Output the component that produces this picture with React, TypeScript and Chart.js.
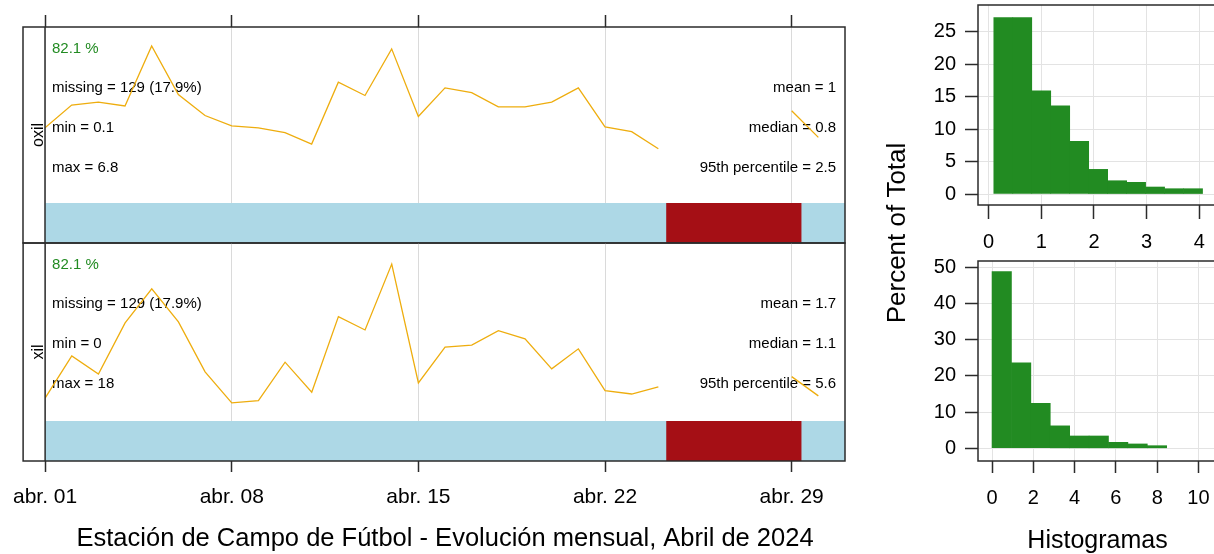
import React, { useEffect, useRef } from "react";
import { Chart, registerables } from "chart.js";

Chart.register(...registerables);

const FONT = '"Liberation Sans", Arial, Helvetica, sans-serif';
Chart.defaults.font.family = FONT;
Chart.defaults.color = "#000000";

// ---------------- data ----------------
const DATES = [
  "2024-04-01", "2024-04-02", "2024-04-03", "2024-04-04", "2024-04-05", "2024-04-06",
  "2024-04-07", "2024-04-08", "2024-04-09", "2024-04-10", "2024-04-11", "2024-04-12",
  "2024-04-13", "2024-04-14", "2024-04-15", "2024-04-16", "2024-04-17", "2024-04-18",
  "2024-04-19", "2024-04-20", "2024-04-21", "2024-04-22", "2024-04-23", "2024-04-24",
  "2024-04-25", "2024-04-26", "2024-04-27", "2024-04-28", "2024-04-29", "2024-04-30",
];
const OXIL_DAILY = [
  0.79, 1.03, 1.06, 1.02, 1.65, 1.14, 0.92, 0.81, 0.79, 0.74, 0.62, 1.27, 1.13, 1.62, 0.91,
  1.21, 1.16, 1.01, 1.01, 1.06, 1.21, 0.8, 0.75, 0.57, null, null, null, null, 0.97, 0.69,
];
const XIL_DAILY = [
  0.62, 1.76, 1.27, 2.65, 3.57, 2.68, 1.33, 0.49, 0.55, 1.59, 0.78, 2.82, 2.46, 4.24, 1.03,
  2.0, 2.05, 2.44, 2.22, 1.41, 1.95, 0.82, 0.73, 0.92, null, null, null, null, 1.2, 0.68,
];
const PERIOD = ["2024-04-01T00:00", "2024-05-01T00:00"];
const MISSING_PERIOD = ["2024-04-24T07:00", "2024-04-29T09:00"];
const DATE_TICKS = ["2024-04-01", "2024-04-08", "2024-04-15", "2024-04-22", "2024-04-29"];
const DATE_TICK_LABELS = ["abr. 01", "abr. 08", "abr. 15", "abr. 22", "abr. 29"];

const VARIABLES = ["oxil", "xil"];
const CAPTURE_PCT = [82.1, 82.1];
const MISSING_N = [129, 129];
const MISSING_PCT = [17.9, 17.9];
const MIN_VALUES = [0.1, 0];
const MAX_VALUES = [6.8, 18];
const MEAN_VALUES = [1, 1.7];
const MEDIAN_VALUES = [0.8, 1.1];
const P95_VALUES = [2.5, 5.6];
const Y_RANGE_OXIL = [-0.42, 1.85];
const Y_RANGE_XIL = [-1.08, 4.81];
const CAPTURE_LEVEL = [0, 0];

const HIST_OXIL_EDGES = [0.1, 0.46, 0.82, 1.18, 1.54, 1.9, 2.26, 2.62, 2.98, 3.34, 3.7, 4.06];
const HIST_OXIL_PCT = [27.2, 27.2, 15.9, 13.6, 8.1, 3.8, 2.05, 1.8, 1.08, 0.82, 0.82];
const HIST_XIL_EDGES = [0, 0.94, 1.88, 2.82, 3.76, 4.7, 5.64, 6.58, 7.52, 8.46];
const HIST_XIL_PCT = [48.8, 23.6, 12.4, 6.2, 3.4, 3.4, 1.65, 1.2, 0.72];
const HIST_OXIL_X_TICKS = [0, 1, 2, 3, 4, 5];
const HIST_OXIL_Y_TICKS = [0, 5, 10, 15, 20, 25];
const HIST_XIL_X_TICKS = [0, 2, 4, 6, 8, 10, 12];
const HIST_XIL_Y_TICKS = [0, 10, 20, 30, 40, 50];
const HIST_OXIL_X_RANGE = [-0.2, 5.15];
const HIST_OXIL_Y_RANGE = [-1.69, 29.12];
const HIST_XIL_X_RANGE = [-0.68, 12.98];
const HIST_XIL_Y_RANGE = [-3.51, 51.74];

const TITLE = "Estación de Campo de Fútbol - Evolución mensual, Abril de 2024";
const HIST_TITLE = "Histogramas";
const HIST_Y_TITLE = "Percent of Total";

// ---------------- styles / layout ----------------
const TREND = "#EEAD0E";
const CAPTURE = "#ADD8E6";
const MISSING = "#A50F15";
const HIST = "#228B22";
const PCT_COLOR = "#228B22";
const FRAME = "#2b2b2b";
const GRID_L = "#dadada";
const GRID_H = "#e3e3e3";

const CANVAS_W = 1300;
const CANVAS_H = 554;
const L_LEFT = 45;
const L_RIGHT = 845;
const STRIP_W = 22;
const L_TOPS = [27, 243];
const L_BOTTOMS = [243, 461];
const H_LEFT = 978;
const H_RIGHT = 1260;
const H_TOPS = [5, 261];
const H_BOTTOMS = [205, 461];
const H_YAXIS_W = 60;
const H_XAXIS_H = 50;

const T0 = Date.parse("2024-04-01T00:00:00Z");
const toDay = (s: string) =>
  (Date.parse(s.length === 10 ? s + "T00:00:00Z" : s + ":00Z") - T0) / 86400000;

const noScalePadding = (s: any) => {
  s.paddingTop = 0;
  s.paddingBottom = 0;
  s.paddingLeft = 0;
  s.paddingRight = 0;
};

function panelPlugin(idx: number) {
  return {
    id: "panelDecor" + idx,
    beforeDatasetsDraw(chart: any) {
      const { ctx, chartArea: a } = chart;
      ctx.save();
      ctx.font = `15px ${FONT}`;
      ctx.textBaseline = "middle";
      const rows = [0, 1, 2, 3].map((i) => a.top + 21.5 + 39.75 * i);
      ctx.textAlign = "left";
      ctx.fillStyle = PCT_COLOR;
      ctx.fillText(`${CAPTURE_PCT[idx]} %`, a.left + 7, rows[0]);
      ctx.fillStyle = "#000";
      ctx.fillText(`missing = ${MISSING_N[idx]} (${MISSING_PCT[idx]}%)`, a.left + 7, rows[1]);
      ctx.fillText(`min = ${MIN_VALUES[idx]}`, a.left + 7, rows[2]);
      ctx.fillText(`max = ${MAX_VALUES[idx]}`, a.left + 7, rows[3]);
      ctx.textAlign = "right";
      ctx.fillText(`mean = ${MEAN_VALUES[idx]}`, a.right - 9, rows[1]);
      ctx.fillText(`median = ${MEDIAN_VALUES[idx]}`, a.right - 9, rows[2]);
      ctx.fillText(`95th percentile = ${P95_VALUES[idx]}`, a.right - 9, rows[3]);
      ctx.restore();
    },
    afterDatasetsDraw(chart: any) {
      const { ctx, chartArea: a } = chart;
      ctx.save();
      ctx.strokeStyle = FRAME;
      ctx.lineWidth = 1.5;
      ctx.strokeRect(a.left - STRIP_W, a.top, a.right - a.left + STRIP_W, a.bottom - a.top);
      ctx.beginPath();
      ctx.moveTo(a.left, a.top);
      ctx.lineTo(a.left, a.bottom);
      ctx.stroke();
      ctx.translate(a.left - 2.5, (a.top + a.bottom) / 2);
      ctx.rotate(-Math.PI / 2);
      ctx.font = `16px ${FONT}`;
      ctx.fillStyle = "#000";
      ctx.textAlign = "center";
      ctx.textBaseline = "alphabetic";
      ctx.fillText(VARIABLES[idx], 0, 0);
      ctx.restore();
    },
  };
}

function panelConfig(idx: number, values: (number | null)[], yRange: number[]) {
  const isBottom = idx === 1;
  const top = L_TOPS[idx];
  const bottom = L_BOTTOMS[idx];
  const axisH = isBottom ? 93 : 12;
  const pts = DATES.map((d, i) => ({ x: toDay(d), y: values[i] }));
  return {
    type: "line",
    data: {
      datasets: [
        {
          data: pts,
          borderColor: TREND,
          borderWidth: 1.3,
          pointRadius: 0,
          fill: false,
          spanGaps: false,
          tension: 0,
        },
        {
          data: MISSING_PERIOD.map((d) => ({ x: toDay(d), y: CAPTURE_LEVEL[idx] })),
          borderColor: "rgba(0,0,0,0)",
          borderWidth: 0,
          backgroundColor: MISSING,
          fill: "start",
          pointRadius: 0,
        },
        {
          data: PERIOD.map((d) => ({ x: toDay(d), y: CAPTURE_LEVEL[idx] })),
          borderColor: "rgba(0,0,0,0)",
          borderWidth: 0,
          backgroundColor: CAPTURE,
          fill: "start",
          pointRadius: 0,
        },
      ],
    },
    options: {
      responsive: false,
      animation: false,
      devicePixelRatio: 1,
      events: [],
      layout: {
        padding: {
          left: L_LEFT,
          right: CANVAS_W - L_RIGHT,
          top: isBottom ? top : top - axisH,
          bottom: isBottom ? CANVAS_H - bottom - axisH : CANVAS_H - bottom,
        },
      },
      plugins: { legend: { display: false }, tooltip: { enabled: false } },
      scales: {
        x: {
          type: "linear",
          position: isBottom ? "bottom" : "top",
          min: toDay(PERIOD[0]),
          max: toDay(PERIOD[1]),
          afterBuildTicks: (s: any) => {
            s.ticks = DATE_TICKS.map((d) => ({ value: toDay(d) }));
          },
          afterFit: (s: any) => {
            s.height = axisH;
          },
          grid: {
            color: GRID_L,
            lineWidth: 1,
            tickColor: FRAME,
            tickLength: isBottom ? 11 : 12,
            tickWidth: 1.5,
          },
          border: { display: false },
          ticks: {
            display: isBottom,
            font: { size: 21 },
            color: "#000",
            padding: 13,
            maxRotation: 0,
            minRotation: 0,
            autoSkip: false,
            callback: (_v: any, i: number) => DATE_TICK_LABELS[i],
          },
          title: {
            display: isBottom,
            text: TITLE,
            font: { size: 25.5 },
            color: "#000",
            padding: { top: 0, bottom: 0 },
          },
        },
        y: { display: false, min: yRange[0], max: yRange[1] },
      },
    },
    plugins: [panelPlugin(idx)],
  };
}

function histPlugin(idx: number) {
  return {
    id: "histDecor" + idx,
    afterDatasetsDraw(chart: any) {
      const { ctx, chartArea: a } = chart;
      ctx.save();
      ctx.strokeStyle = FRAME;
      ctx.lineWidth = 1.5;
      ctx.strokeRect(a.left, a.top, a.right - a.left, a.bottom - a.top);
      if (idx === 1) {
        ctx.fillStyle = "#000";
        ctx.font = `25px ${FONT}`;
        ctx.textAlign = "center";
        ctx.textBaseline = "alphabetic";
        ctx.fillText(HIST_TITLE, 1097.5, 548);
        ctx.font = `26px ${FONT}`;
        ctx.translate(a.left - 73, (H_TOPS[0] + H_BOTTOMS[1]) / 2);
        ctx.rotate(-Math.PI / 2);
        ctx.fillText(HIST_Y_TITLE, 0, 0);
      }
      ctx.restore();
    },
  };
}

function histConfig(
  idx: number,
  edges: number[],
  pct: number[],
  xRange: number[],
  yRange: number[],
  xTicks: number[],
  yTicks: number[],
  tickLen: number,
  labelPad: number
) {
  const data = pct.map((p, i) => ({ x: (edges[i] + edges[i + 1]) / 2, y: p }));
  return {
    type: "bar",
    data: {
      datasets: [
        {
          data,
          backgroundColor: HIST,
          borderWidth: 0,
          barPercentage: 1,
          categoryPercentage: 1,
        },
      ],
    },
    options: {
      responsive: false,
      animation: false,
      devicePixelRatio: 1,
      events: [],
      layout: {
        padding: {
          left: H_LEFT - H_YAXIS_W,
          right: CANVAS_W - H_RIGHT,
          top: H_TOPS[idx],
          bottom: CANVAS_H - H_BOTTOMS[idx] - H_XAXIS_H,
        },
      },
      plugins: { legend: { display: false }, tooltip: { enabled: false } },
      scales: {
        x: {
          type: "linear",
          min: xRange[0],
          max: xRange[1],
          offset: false,
          afterBuildTicks: (s: any) => {
            s.ticks = xTicks.map((v) => ({ value: v }));
          },
          afterFit: (s: any) => {
            s.height = H_XAXIS_H;
            noScalePadding(s);
          },
          grid: {
            offset: false,
            color: GRID_H,
            lineWidth: 1,
            tickColor: FRAME,
            tickLength: tickLen,
            tickWidth: 1.5,
          },
          border: { display: false },
          ticks: {
            font: { size: 20 },
            color: "#000",
            padding: labelPad,
            maxRotation: 0,
            minRotation: 0,
            autoSkip: false,
          },
        },
        y: {
          type: "linear",
          min: yRange[0],
          max: yRange[1],
          afterBuildTicks: (s: any) => {
            s.ticks = yTicks.map((v) => ({ value: v }));
          },
          afterFit: (s: any) => {
            s.width = H_YAXIS_W;
            noScalePadding(s);
          },
          grid: {
            color: GRID_H,
            lineWidth: 1,
            tickColor: FRAME,
            tickLength: 13,
            tickWidth: 1.5,
          },
          border: { display: false },
          ticks: {
            font: { size: 20 },
            color: "#000",
            padding: 9,
            autoSkip: false,
          },
        },
      },
    },
    plugins: [histPlugin(idx)],
  };
}

function ChartCanvas({ make }: { make: () => any }) {
  const ref = useRef<HTMLCanvasElement>(null);
  useEffect(() => {
    const chart = new Chart(ref.current as HTMLCanvasElement, make());
    return () => chart.destroy();
  }, []);
  return (
    <canvas
      ref={ref}
      width={CANVAS_W}
      height={CANVAS_H}
      style={{ position: "absolute", left: 0, top: 0 }}
    />
  );
}

export default function App() {
  return (
    <div
      style={{
        position: "absolute",
        left: 0,
        top: 0,
        width: 1214,
        height: 554,
        overflow: "hidden",
        background: "#ffffff",
      }}
    >
      <ChartCanvas make={() => panelConfig(0, OXIL_DAILY, Y_RANGE_OXIL)} />
      <ChartCanvas make={() => panelConfig(1, XIL_DAILY, Y_RANGE_XIL)} />
      <ChartCanvas
        make={() =>
          histConfig(0, HIST_OXIL_EDGES, HIST_OXIL_PCT, HIST_OXIL_X_RANGE, HIST_OXIL_Y_RANGE,
            HIST_OXIL_X_TICKS, HIST_OXIL_Y_TICKS, 14, 11)
        }
      />
      <ChartCanvas
        make={() =>
          histConfig(1, HIST_XIL_EDGES, HIST_XIL_PCT, HIST_XIL_X_RANGE, HIST_XIL_Y_RANGE,
            HIST_XIL_X_TICKS, HIST_XIL_Y_TICKS, 12, 13)
        }
      />
    </div>
  );
}
